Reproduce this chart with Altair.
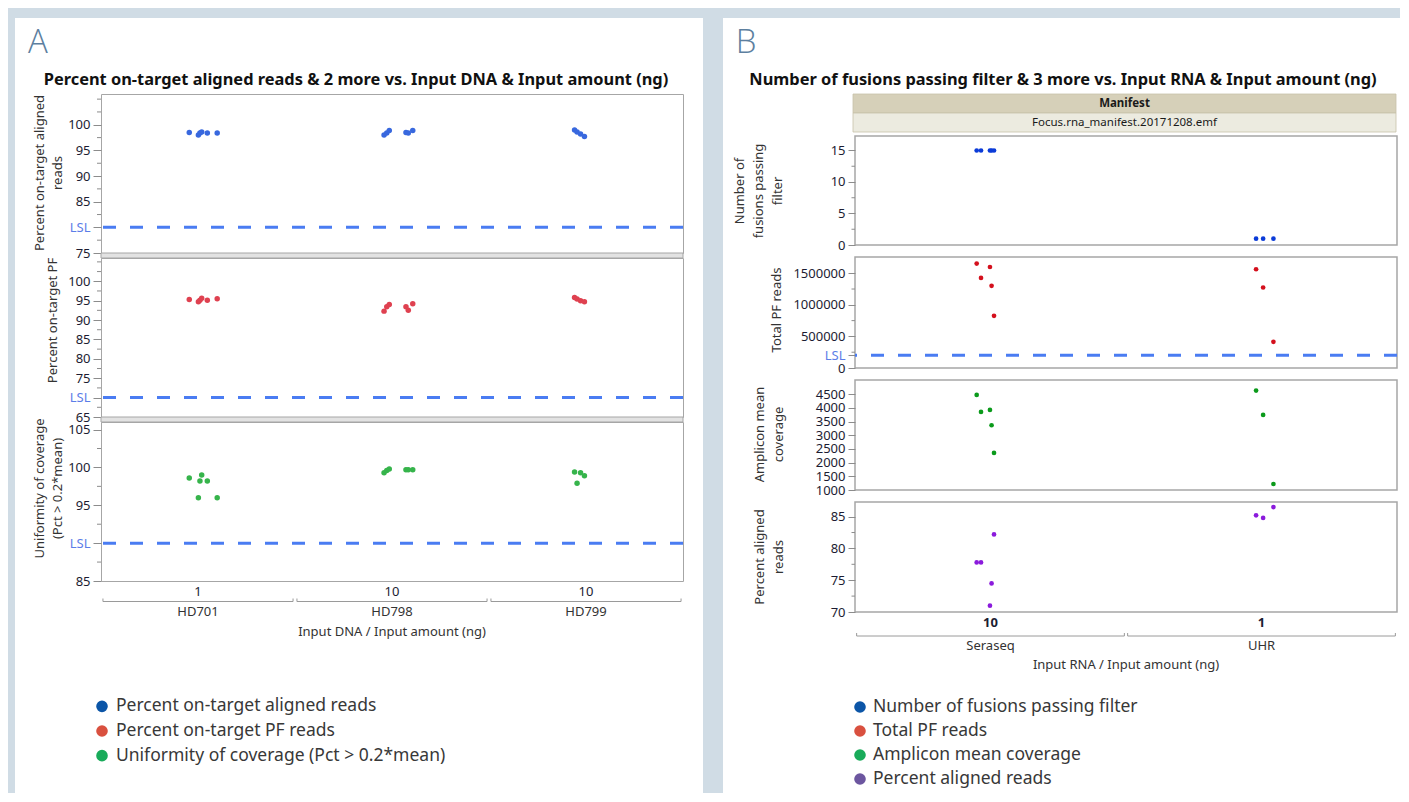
import altair as alt
import pandas as pd

# ================= Panel A data =================
A_LETTER = "A"
A_TITLE = "Percent on-target aligned reads & 2 more vs. Input DNA & Input amount (ng)"
A_GROUPS = ["HD701", "HD798", "HD799"]
A_AMOUNTS = ["1", "10", "10"]
A_SAMPLE_GROUP = ["HD701"] * 6 + ["HD798"] * 6 + ["HD799"] * 4
A_JITTER = [-0.045, 0.002, 0.010, 0.019, 0.048, 0.099,
            -0.041, -0.027, -0.014, 0.072, 0.084, 0.107,
            -0.059, -0.046, -0.028, -0.008]
A_ONTARGET_ALIGNED = [98.5, 98.0, 98.4, 98.6, 98.4, 98.4,
                      98.0, 98.4, 98.9, 98.5, 98.4, 98.9,
                      99.0, 98.6, 98.2, 97.7]
A_ONTARGET_PF = [95.3, 94.7, 95.1, 95.6, 95.1, 95.5,
                 92.3, 93.4, 94.0, 93.4, 92.5, 94.2,
                 95.8, 95.4, 95.0, 94.7]
A_UNIFORMITY = [98.6, 96.0, 98.2, 99.0, 98.2, 96.0,
                99.3, 99.6, 99.8, 99.7, 99.7, 99.7,
                99.4, 97.9, 99.3, 98.9]
A_LSL = [80, 70, 90]
A_YTITLES = [["Percent on-target aligned", "reads"],
             ["Percent on-target PF"],
             ["Uniformity of coverage", "(Pct > 0.2*mean)"]]
A_TICKS = [[75, 80, 85, 90, 95, 100],
           [65, 70, 75, 80, 85, 90, 95, 100],
           [85, 90, 95, 100, 105]]
A_MINOR = [[77.5, 82.5, 87.5, 92.5, 97.5, 102.5, 105],
           [67.5, 72.5, 77.5, 82.5, 87.5, 92.5, 97.5, 102.5, 105],
           [87.5, 92.5, 97.5, 102.5]]
A_DOMAINS = [[75, 106], [65, 106], [85, 106]]
A_LEGEND = ["Percent on-target aligned reads", "Percent on-target PF reads",
            "Uniformity of coverage (Pct > 0.2*mean)"]
A_XTITLE = "Input DNA / Input amount (ng)"

# ================= Panel B data =================
B_LETTER = "B"
B_TITLE = "Number of fusions passing filter & 3 more vs. Input RNA & Input amount (ng)"
B_MANIFEST = "Manifest"
B_MANIFEST_FILE = "Focus.rna_manifest.20171208.emf"
B_GROUPS = ["Seraseq", "UHR"]
B_AMOUNTS = ["10", "1"]
B_SAMPLE_GROUP = ["Seraseq"] * 5 + ["UHR"] * 3
B_JITTER = [-0.051, -0.035, -0.002, 0.004, 0.013, -0.020, 0.006, 0.044]
B_FUSIONS = [15, 15, 15, 15, 15, 1, 1, 1]
B_TOTAL_PF = [1653000, 1426000, 1599000, 1300000, 826000, 1563000, 1274000, 415000]
B_AMPLICON = [4476, 3854, 3927, 3366, 2354, 4632, 3743, 1219]
B_PCT_ALIGNED = [77.8, 77.8, 71.0, 74.5, 82.2, 85.2, 84.8, 86.5]
B_LSL = [None, 200000, None, None]
B_YTITLES = [["Number of", "fusions passing", "filter"],
             ["Total PF reads"],
             ["Amplicon mean", "coverage"],
             ["Percent aligned", "reads"]]
B_TICKS = [[0, 5, 10, 15],
           [0, 200000, 500000, 1000000, 1500000],
           [1000, 1500, 2000, 2500, 3000, 3500, 4000, 4500],
           [70, 75, 80, 85]]
B_MINOR = [[2.5, 7.5, 12.5], [250000, 750000, 1250000], [], [72.5, 77.5, 82.5]]
B_DOMAINS = [[0, 17.3], [0, 1757000], [1000, 5020], [70, 87.3]]
B_LEGEND = ["Number of fusions passing filter", "Total PF reads",
            "Amplicon mean coverage", "Percent aligned reads"]
B_XTITLE = "Input RNA / Input amount (ng)"

# ================= styles =================
BG = "#d0dce5"
FONT = "Noto Sans"
TICK_C = "#8c8c8c"
LABEL_C = "#1c1c32"
TEXT_C = "#333333"
LSL_LINE = "#4a7cf2"
LSL_TEXT = "#5b7de8"
FRAME_C = "#a6a6a6"
BR_C = "#9a9a9a"
LETTER_C = "#5d7f9f"
A_POINT = ["#3868de", "#df4150", "#36b44b"]
B_POINT = ["#0b3bd8", "#d4101d", "#0b9a1b", "#8b1bdc"]
A_LEG_COL = ["#0b55a7", "#d9503f", "#19ab5a"]
B_LEG_COL = ["#0b55a7", "#d9503f", "#19ab5a", "#6c569f"]

ONE = pd.DataFrame({"k": [0]})


def plot_table(groups, sample_group, jitter, values, minor, lsl):
    gi = {g: i for i, g in enumerate(groups)}
    rows = [{"kind": "pt", "y": v, "pos": gi[g] + 0.5 + j}
            for g, j, v in zip(sample_group, jitter, values)]
    rows += [{"kind": "minor", "y": m, "pos": 0.0} for m in minor]
    if lsl is not None:
        rows.append({"kind": "lsl", "y": lsl, "pos": 0.0})
    return pd.DataFrame(rows)


def scatter(df, color, size, xdom, ydom, ticks, lsl, title, tx, ty, lh,
            w, h, tsize, msize, frame_w, strip):
    xs = alt.Scale(domain=xdom, nice=False, zero=False)
    ys = alt.Scale(domain=ydom, nice=False, zero=False)
    ax = dict(values=ticks, format="d", labelFont=FONT, labelFontSize=13, labelPadding=3,
              labelOverlap=False, tickSize=tsize, tickColor=TICK_C, domain=False, grid=False,
              title=title, titleFont=FONT, titleFontSize=13, titleFontWeight="normal",
              titleColor=TEXT_C, titleAngle=270, titleAlign="center", titleBaseline="top",
              titleX=tx, titleY=ty, titleLineHeight=lh)
    if lsl is not None:
        ax["labelExpr"] = f"datum.value == {lsl} ? 'LSL' : datum.label"
        ax["labelColor"] = {"condition": {"test": f"datum.value == {lsl}", "value": LSL_TEXT},
                            "value": LABEL_C}
    else:
        ax["labelColor"] = LABEL_C
    base = alt.Chart(df).encode(y=alt.Y("y:Q", scale=ys, axis=alt.Axis(**ax)))
    layers = []
    if strip:
        layers.append(alt.Chart(ONE).mark_rect(color="#e2e2e2", stroke=FRAME_C, strokeWidth=1).encode(
            x=alt.value(0), x2=alt.value(w), y=alt.value(-5), y2=alt.value(0)))
    if (df["kind"] == "minor").any():
        layers.append(base.transform_filter("datum.kind == 'minor'").mark_rule(color=TICK_C).encode(
            x=alt.value(-msize), x2=alt.value(0)))
    if lsl is not None:
        layers.append(base.transform_filter("datum.kind == 'lsl'").mark_rule(
            color=LSL_LINE, strokeWidth=3, strokeDash=[13, 14]))
    layers.append(base.transform_filter("datum.kind == 'pt'").mark_circle(
        size=size, opacity=1, color=color).encode(x=alt.X("pos:Q", scale=xs, axis=None)))
    return alt.layer(*layers).properties(
        width=w, height=h, view=alt.ViewBackground(stroke=FRAME_C, strokeWidth=frame_w))


def bracket(groups, amounts, xdom, w, h, y_amt, y_br, y_lab, y_title, xtitle, inset, amt_weight):
    df = pd.DataFrame({"group": groups, "amount": amounts, "idx": list(range(len(groups)))})
    xs = alt.Scale(domain=xdom, nice=False, zero=False)
    base = alt.Chart(df).transform_calculate(
        mid="datum.idx + 0.5", start=f"datum.idx + {inset}", end=f"datum.idx + 1 - {inset}")
    line = base.mark_rule(color=BR_C).encode(
        x=alt.X("start:Q", scale=xs, axis=None), x2=alt.X2("end"), y=alt.value(y_br))
    tl = base.mark_rule(color=BR_C).encode(
        x=alt.X("start:Q", scale=xs, axis=None), y=alt.value(y_br - 3), y2=alt.value(y_br))
    tr = base.mark_rule(color=BR_C).encode(
        x=alt.X("end:Q", scale=xs, axis=None), y=alt.value(y_br - 3), y2=alt.value(y_br))
    amt = base.mark_text(font=FONT, fontSize=13, color=LABEL_C, fontWeight=amt_weight,
                         baseline="middle").encode(
        x=alt.X("mid:Q", scale=xs, axis=None), y=alt.value(y_amt), text="amount:N")
    lab = base.mark_text(font=FONT, fontSize=13, color=TEXT_C, baseline="middle").encode(
        x=alt.X("mid:Q", scale=xs, axis=None), y=alt.value(y_lab), text="group:N")
    ttl = alt.Chart(ONE).mark_text(font=FONT, fontSize=13, color=TEXT_C, baseline="middle").encode(
        x=alt.value(w / 2), y=alt.value(y_title), text=alt.value(xtitle))
    return alt.layer(line, tl, tr, amt, lab, ttl).properties(width=w, height=h)


def legend(labels, colors, w, h, cx, tx):
    df = pd.DataFrame({"label": labels, "col": colors, "order": list(range(len(labels)))})
    base = alt.Chart(df).encode(
        y=alt.Y("order:O", axis=None, scale=alt.Scale(type="point", padding=0.5)))
    dots = base.mark_circle(size=135, opacity=1).encode(
        x=alt.value(cx), color=alt.Color("col:N", scale=None, legend=None))
    txt = base.mark_text(align="left", baseline="middle", font=FONT, fontSize=17.5,
                         color="#383838").encode(x=alt.value(tx), text="label:N")
    return alt.layer(dots, txt).properties(width=w, height=h)


def header(letter, title, w, h, rect, letter_xy, title_xy, bands=None):
    layers = [alt.Chart(ONE).mark_rect(color="white").encode(
        x=alt.value(rect[0]), x2=alt.value(rect[1]), y=alt.value(rect[2]), y2=alt.value(rect[3]))]
    layers.append(alt.Chart(ONE).mark_text(font="Open Sans", fontWeight=300, fontSize=33,
                                           color=LETTER_C, align="center", baseline="middle").encode(
        x=alt.value(letter_xy[0]), y=alt.value(letter_xy[1]), text=alt.value(letter)))
    layers.append(alt.Chart(ONE).mark_text(font=FONT, fontWeight="bold", fontSize=16.4,
                                           color="#111111", align="center", baseline="middle").encode(
        x=alt.value(title_xy[0]), y=alt.value(title_xy[1]), text=alt.value(title)))
    if bands:
        for (x0, x1, y0, y1, fill, text, weight) in bands:
            layers.append(alt.Chart(ONE).mark_rect(color=fill, stroke="#c8c2aa", strokeWidth=0.8).encode(
                x=alt.value(x0), x2=alt.value(x1), y=alt.value(y0), y2=alt.value(y1)))
            layers.append(alt.Chart(ONE).mark_text(font=FONT, fontSize=11.5, fontWeight=weight,
                                                   color="#1a1a1a", align="center",
                                                   baseline="middle").encode(
                x=alt.value((x0 + x1) / 2), y=alt.value((y0 + y1) / 2), text=alt.value(text)))
    return alt.layer(*layers).properties(width=w, height=h)


# ---------------- Panel A ----------------
AW, AH = 582, 159
A_VALUES = [A_ONTARGET_ALIGNED, A_ONTARGET_PF, A_UNIFORMITY]
a_cells = [header(A_LETTER, A_TITLE, AW, 35, (-86, 602, -36, 739), (-63, -11), (255, 26))]
a_tx = [-67.4, -54.4, -67.4]
a_ty = [78.5, 62, 66]
for i in range(3):
    t = plot_table(A_GROUPS, A_SAMPLE_GROUP, A_JITTER, A_VALUES[i], A_MINOR[i], A_LSL[i])
    a_cells.append(scatter(t, A_POINT[i], 30, [0, 3], A_DOMAINS[i], A_TICKS[i],
                           A_LSL[i], A_YTITLES[i], a_tx[i], a_ty[i], 18,
                           AW, AH, 8, 4, 1, i > 0))
a_cells.append(bracket(A_GROUPS, A_AMOUNTS, [0, 3], AW, 103, 5.5, 15.5, 26, 46, A_XTITLE, 0.01, "normal"))
a_cells.append(legend(A_LEGEND, A_LEG_COL, AW, 74, 1, 15))
panelA = alt.vconcat(*a_cells, spacing=5, bounds="flush")

# ---------------- Panel B ----------------
BW = 542
B_VALUES = [B_FUSIONS, B_TOTAL_PF, B_AMPLICON, B_PCT_ALIGNED]
b_heights = [109, 111, 110, 110]
b_bands = [(-2, 541, 40, 59, "#d6d0b9", B_MANIFEST, "bold"),
           (-2, 541, 59, 78, "#ecebe0", B_MANIFEST_FILE, "normal")]
b_cells = [header(B_LETTER, B_TITLE, BW, 70, (-132, 545, -36, 739), (-109, -11), (208, 26), b_bands)]
b_tx = [-121.4, -84.7, -101.4, -101.4]
b_ty = [54.5, 52.5, 54, 54.5]
for i in range(4):
    t = plot_table(B_GROUPS, B_SAMPLE_GROUP, B_JITTER, B_VALUES[i], B_MINOR[i], B_LSL[i])
    b_cells.append(scatter(t, B_POINT[i], 22, [0, 2], B_DOMAINS[i], B_TICKS[i],
                           B_LSL[i], B_YTITLES[i], b_tx[i], b_ty[i], 19,
                           BW, b_heights[i], 7, 3.5, 1.5, False))
b_cells.append(bracket(B_GROUPS, B_AMOUNTS, [0, 2], BW, 59, -1, 12, 22, 41, B_XTITLE, 0.006, "bold"))
b_cells.append(legend(B_LEGEND, B_LEG_COL, BW, 96, 5, 18))
panelB = alt.vconcat(*b_cells, spacing=12, bounds="flush")

chart = alt.hconcat(panelA, panelB, spacing=20).properties(
    padding={"left": 7, "top": 10, "right": 0, "bottom": 0}
).configure(background=BG).configure_view(stroke=None)

chart.save("out.html", embed_options={"renderer": "svg", "actions": False})
